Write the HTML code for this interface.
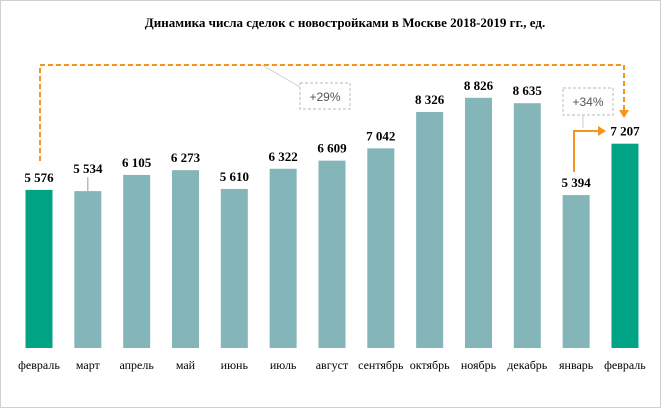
<!DOCTYPE html>
<html><head><meta charset="utf-8"><style>
body{margin:0;background:#fff}
svg{display:block;font-family:"Liberation Serif",serif}
</style></head><body>
<svg width="661" height="408">
<rect x="0.5" y="0.5" width="660" height="407" fill="#fff" stroke="#d0d0d0"/>
<text x="345" y="27" text-anchor="middle" font-size="13" font-weight="bold">Динамика числа сделок с новостройками в Москве 2018-2019 гг., ед.</text>
<g id="bars"></g>
<polyline points="40,161 40,65 624,65 624,112" fill="none" stroke="#f7941d" stroke-width="2" stroke-dasharray="5,3"/>
<polygon points="619,110 629,110 624,118" fill="#f7941d"/>
<line x1="262" y1="65" x2="300" y2="87" stroke="#ccc"/>
<rect x="300" y="83" width="50" height="26" fill="#fff" stroke="#bbb" stroke-dasharray="3,2"/>
<text x="325" y="101" text-anchor="middle" font-family="Liberation Sans,sans-serif" font-size="12" fill="#555">+29%</text>
<polyline points="574,172 574,131 600,131" fill="none" stroke="#f7941d" stroke-width="2"/>
<polygon points="598,126 606,131 598,136" fill="#f7941d"/>
<line x1="583" y1="115" x2="583" y2="128" stroke="#ccc"/>
<rect x="563" y="88" width="50" height="27" fill="#fff" stroke="#bbb" stroke-dasharray="3,2"/>
<text x="588" y="106" text-anchor="middle" font-family="Liberation Sans,sans-serif" font-size="12" fill="#555">+34%</text>
</svg>
<script>
const categories=["февраль","март","апрель","май","июнь","июль","август","сентябрь","октябрь","ноябрь","декабрь","январь","февраль"];
const values=[5576,5534,6105,6273,5610,6322,6609,7042,8326,8826,8635,5394,7207];
const valueLabels=["5 576","5 534","6 105","6 273","5 610","6 322","6 609","7 042","8 326","8 826","8 635","5 394","7 207"];
const highlighted=[true,false,false,false,false,false,false,false,false,false,false,false,true];
const ns="http://www.w3.org/2000/svg";
const g=document.getElementById("bars");
const base=348,k=0.02835,x0=39,step=48.83,bw=27;
const yS=v=>base-v*k, xS=i=>x0+i*step;
values.forEach((v,i)=>{
 const r=document.createElementNS(ns,"rect");
 r.setAttribute("x",xS(i)-bw/2);r.setAttribute("y",yS(v));
 r.setAttribute("width",bw);r.setAttribute("height",base-yS(v));
 r.setAttribute("fill",highlighted[i]?"#00a383":"#84b5b8");
 
 
 g.appendChild(r);
 const t=document.createElementNS(ns,"text");
 t.setAttribute("x",xS(i));t.setAttribute("y",yS(v)-(i==1?18:8));
 t.setAttribute("text-anchor","middle");t.setAttribute("font-size","13");t.setAttribute("font-weight","bold");
 t.textContent=valueLabels[i];
 
 
 g.appendChild(t);
 const c=document.createElementNS(ns,"text");
 c.setAttribute("x",xS(i));c.setAttribute("y",369);
 c.setAttribute("text-anchor","middle");c.setAttribute("font-size","12");
 c.textContent=categories[i];
 
 
 g.appendChild(c);
});
const ln=document.createElementNS(ns,"line");
ln.setAttribute("x1",xS(1));ln.setAttribute("x2",xS(1));ln.setAttribute("y1",yS(values[1])-14);ln.setAttribute("y2",yS(values[1]));
ln.setAttribute("stroke","#999");


g.appendChild(ln);
</script>
</body></html>
